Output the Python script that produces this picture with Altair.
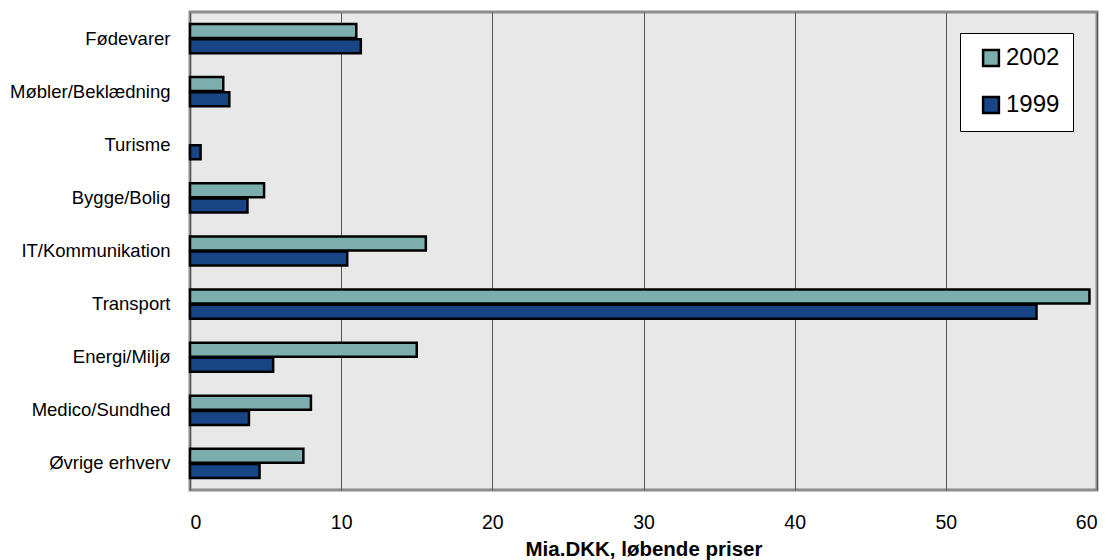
import altair as alt
import pandas as pd

categories = ["Fødevarer", "Møbler/Beklædning", "Turisme", "Bygge/Bolig", "IT/Kommunikation",
              "Transport", "Energi/Miljø", "Medico/Sundhed", "Øvrige erhverv"]
v2002 = [11.0, 2.2, 0.0, 4.9, 15.6, 59.5, 15.0, 8.0, 7.5]
v1999 = [11.3, 2.6, 0.7, 3.8, 10.4, 56.0, 5.5, 3.9, 4.6]
series = ["2002", "1999"]
colors = ["#7BAEAC", "#174585"]

rows = []
for c, a, b in zip(categories, v2002, v1999):
    rows.append({"cat": c, "year": "2002", "val": a})
    rows.append({"cat": c, "year": "1999", "val": b})
df = pd.DataFrame(rows)

bars = alt.Chart(df).mark_bar(stroke="black", strokeWidth=2.5, size=14).encode(
    y=alt.Y("cat:N", sort=categories, title=None,
            scale=alt.Scale(domain=categories, paddingInner=0.0, paddingOuter=0.0),
            axis=alt.Axis(labelFontSize=18.5, labelFont="Liberation Sans", labelColor="black",
                          ticks=False, domain=False, labelPadding=20, grid=False)),
    yOffset=alt.YOffset("year:N", sort=series,
                        scale=alt.Scale(domain=series, paddingInner=0, paddingOuter=0.75)),
    x=alt.X("val:Q", title="Mia.DKK, løbende priser",
            scale=alt.Scale(domain=[0, 60], nice=False),
            axis=alt.Axis(values=[0, 10, 20, 30, 40, 50, 60], labelFontSize=19.5, labelFont="Liberation Sans",
                          labelColor="black", ticks=False, domain=False, labelPadding=23,
                          grid=True, gridColor="#555555", gridWidth=1,
                          titleFont="Liberation Sans", titleFontSize=20.5, titleFontWeight="bold",
                          titleColor="black", titlePadding=8)),
    color=alt.Color("year:N", sort=series, scale=alt.Scale(domain=series, range=colors),
                    legend=alt.Legend(title=None, orient="none", legendX=770, legendY=21,
                                      fillColor="white", strokeColor="black", padding=13,
                                      symbolType="square", symbolSize=250, symbolStrokeColor="black",
                                      symbolStrokeWidth=2.5, symbolOpacity=1, symbolOffset=6,
                                      labelFontSize=24, labelFont="Liberation Sans", labelColor="black",
                                      rowPadding=21, labelOffset=3, cornerRadius=0)),
).transform_filter("datum.val > 0")

chart = bars.properties(
    width=907, height=478,
    autosize=alt.AutoSizeParams(type="none"),
    padding={"left": 182, "top": 4, "right": 5, "bottom": 70},
    background="white",
).configure_view(fill="#E8E8E8", stroke="#8C8C8C", strokeWidth=3)

chart.save("out.html", embed_options={"renderer": "svg", "actions": False})
